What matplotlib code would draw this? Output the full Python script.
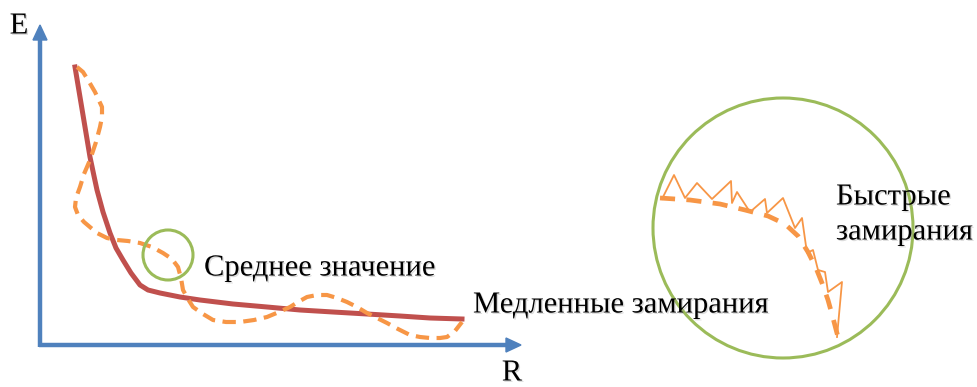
import matplotlib
matplotlib.use("Agg")
import matplotlib.pyplot as plt
from matplotlib.patches import Circle, Polygon
import matplotlib.patheffects as pe

# Data (diagram coordinates in pixel space, y downward)
mean_x = [75, 83, 90, 94, 97, 103, 110, 116, 123, 131, 140, 148, 160, 180, 200, 233, 267, 300, 333, 367, 400, 430, 462]
mean_y = [67, 115, 157, 176, 190, 212, 233, 248, 260, 273, 285, 290, 293, 297, 300, 304, 307, 310, 312, 314, 316, 318, 319]

slow_x = [77, 83, 88, 95, 102, 102, 100, 96, 90, 84, 80, 76, 75, 78, 84, 97, 107, 117, 128, 140, 152, 163, 172, 178, 181, 183, 188, 193, 203, 213, 226, 240, 254, 267, 279, 290, 298, 307, 317, 327, 337, 347, 357, 367, 377, 387, 398, 410, 420, 430, 440, 447, 455, 462]
slow_y = [67, 72, 80, 92, 107, 117, 127, 142, 160, 174, 187, 198, 207, 215, 222, 233, 238, 240, 241, 243, 247, 253, 259, 267, 278, 290, 299, 307, 314, 320, 322, 322, 320, 317, 312, 307, 302, 297, 295, 295, 298, 302, 307, 313, 318, 323, 329, 335, 337, 338, 338, 337, 331, 322]

fast_mean_x = [660, 690, 720, 745, 768, 785, 798, 808, 816, 822, 828, 833, 838]
fast_mean_y = [198, 200, 204, 210, 216, 224, 236, 252, 268, 283, 300, 318, 337]

fast_x = [662, 674, 685, 697, 712, 731, 732, 737, 750, 765, 767, 783, 795, 802, 807, 813, 818, 825, 828, 842, 837]
fast_y = [199, 175, 198, 183, 199, 181, 203, 192, 212, 199, 213, 198, 228, 218, 253, 250, 270, 272, 292, 282, 337]

labels = {
    "E": "E",
    "R": "R",
    "mean": "Среднее значение",
    "slow": "Медленные замирания",
    "fast1": "Быстрые",
    "fast2": "замирания",
}

BLUE = "#4F81BD"
RED = "#C0504D"
ORANGE = "#F79646"
GREEN = "#9BBB59"

fig = plt.figure(figsize=(9.77, 3.87), dpi=100)
ax = fig.add_axes([0, 0, 1, 1])
ax.set_xlim(0, 977)
ax.set_ylim(387, 0)
ax.axis("off")

# axes
ax.plot([40, 40], [346.5, 38], color=BLUE, lw=3.2, solid_capstyle="butt")
ax.plot([38.5, 508], [345, 345], color=BLUE, lw=3.2, solid_capstyle="butt")
ax.add_patch(Polygon([[33, 40], [47, 40], [40, 25]], closed=True, color=BLUE))
ax.add_patch(Polygon([[506, 338], [506, 352], [521, 345]], closed=True, color=BLUE))

# curves
ax.plot(mean_x, mean_y, color=RED, lw=3.6, solid_joinstyle="round", zorder=3)
ax.plot(slow_x, slow_y, color=ORANGE, lw=3.0, dashes=(3.2, 1.8), zorder=4)

# small circle
ax.add_patch(Circle((168, 255), 25, fill=False, ec=GREEN, lw=2.2, zorder=5))

# big circle
ax.add_patch(Circle((783, 228), 130, fill=False, ec=GREEN, lw=2.2, zorder=2))
ax.plot(fast_mean_x, fast_mean_y, color=ORANGE, lw=3.4, dashes=(3.2, 2.4), zorder=4)
ax.plot(fast_x, fast_y, color=ORANGE, lw=1.3, zorder=4)

shadow = [pe.SimpleLineShadow(offset=(1, -1), alpha=0.0), pe.withSimplePatchShadow(offset=(1, -1), shadow_rgbFace="0.6", alpha=0.35)]
font = dict(family="Liberation Serif", color="black", path_effects=shadow)
ax.text(19, 26, labels["E"], fontsize=22, ha="center", va="center", **font)
ax.text(512, 373, labels["R"], fontsize=22, ha="center", va="center", **font)
ax.text(204, 268, labels["mean"], fontsize=22, ha="left", va="center", **font)
ax.text(473, 305, labels["slow"], fontsize=22, ha="left", va="center", zorder=6, **font)
ax.text(836, 197, labels["fast1"], fontsize=22, ha="left", va="center", **font)
ax.text(836, 232, labels["fast2"], fontsize=22, ha="left", va="center", **font)

fig.savefig("out.png", dpi=100)
